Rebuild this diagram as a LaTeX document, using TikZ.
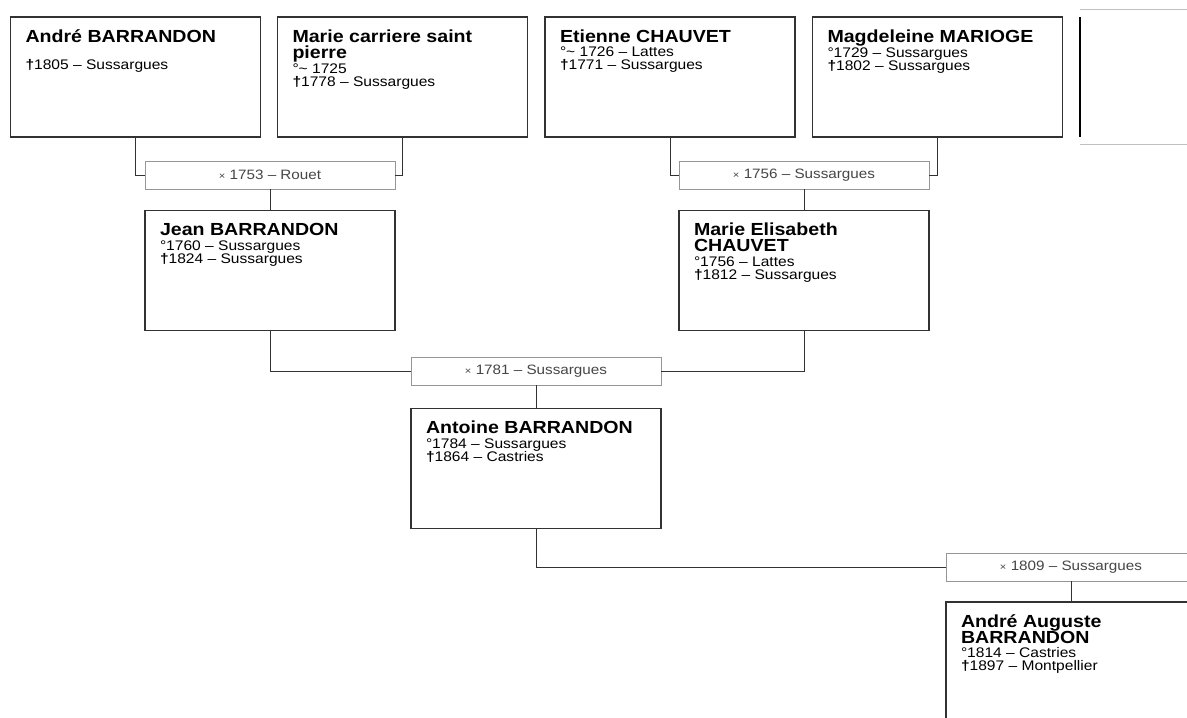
\documentclass[tikz,border=0pt]{standalone}
\usepackage{fontspec}
\setmainfont[FakeStretch=1.12]{Liberation Sans}
\definecolor{boxLine}{RGB}{50,50,50}
\definecolor{marrLine}{RGB}{150,150,150}
\definecolor{marrText}{RGB}{70,70,70}
\newcommand{\namefont}{\fontsize{17.5}{16}\selectfont\bfseries}
\newcommand{\datefont}{\fontsize{13.9}{13}\selectfont\mdseries}
\newcommand{\pcard}[2]{\parbox[t][120pt][t]{220pt}{\raggedright
  \namefont\rule{0pt}{25pt}#1\par\vspace{1.5pt}\datefont #2\par}}
\newcommand{\dg}{{\bfseries †}}
\newcommand{\mx}{{\fontsize{10}{10}\selectfont ×}}
\newcommand{\ca}{\textasciitilde}

\begin{document}
\begin{tikzpicture}[x=1pt, y=-1pt,
    person/.style={draw=boxLine, line width=1.2pt, inner xsep=15pt, inner ysep=0pt},
    marriage/.style={draw=marrLine, line width=0.9pt, minimum width=250pt,
      minimum height=28pt, inner sep=0pt, text=marrText, font=\fontsize{13.6}{13}\selectfont},
    link/.style={draw=boxLine, line width=1pt}]
  \useasboundingbox (0,0) rectangle (1187,718);
  \clip (0,0) rectangle (1187,718);
  \fill[white] (0,0) rectangle (1187,718);

  % first generation
  \node[person] (andre) at (135.5,77) {\pcard{André BARRANDON}{\mbox{}\\ \dg1805 – Sussargues}};
  \node[person] (marieC) at (402.5,77) {\pcard{Marie carriere saint\\ pierre}{°\ca\ 1725\\ \dg1778 – Sussargues}};
  \node[person] (etienne) at (670,77) {\pcard{Etienne CHAUVET}{°\ca\ 1726 – Lattes\\ \dg1771 – Sussargues}};
  \node[person] (magdeleine) at (937.5,77) {\pcard{Magdeleine MARIOGE}{°1729 – Sussargues\\ \dg1802 – Sussargues}};

  % cut box at the right edge
  \fill[white] (1080,9) rectangle (1190,144);
  \draw[marrLine!60, line width=0.8pt] (1080,9) -- (1190,9) (1080,144) -- (1190,144);
  \draw[black, line width=1.4pt] (1080,17) -- (1080,137);

  \node[marriage] (m1753) at (270,175) {\mx{} 1753 – Rouet};
  \node[marriage] (m1756) at (804,175) {\mx{} 1756 – Sussargues};

  % second generation
  \node[person] (jean) at (270,270.5) {\pcard{Jean BARRANDON}{°1760 – Sussargues\\ \dg1824 – Sussargues}};
  \node[person] (elisabeth) at (804,270.5) {\pcard{Marie Elisabeth\\ CHAUVET}{°1756 – Lattes\\ \dg1812 – Sussargues}};

  \node[marriage] (m1781) at (536,371) {\mx{} 1781 – Sussargues};
  \node[person] (antoine) at (536,468.5) {\pcard{Antoine BARRANDON}{°1784 – Sussargues\\ \dg1864 – Castries}};

  \node[marriage] (m1809) at (1071,567) {\mx{} 1809 – Sussargues};
  \node[person] (auguste) at (1071,662) {\pcard{André Auguste\\ BARRANDON}{°1814 – Castries\\ \dg1897 – Montpellier}};

  \draw[link] (andre.south) |- (m1753.west);
  \draw[link] (marieC.south) |- (m1753.east);
  \draw[link] (m1753.south) -- (jean.north);
  \draw[link] (etienne.south) |- (m1756.west);
  \draw[link] (magdeleine.south) |- (m1756.east);
  \draw[link] (m1756.south) -- (elisabeth.north);
  \draw[link] (jean.south) |- (m1781.west);
  \draw[link] (elisabeth.south) |- (m1781.east);
  \draw[link] (m1781.south) -- (antoine.north);
  \draw[link] (antoine.south) |- (m1809.west);
  \draw[link] (m1809.south) -- (auguste.north);
\end{tikzpicture}
\end{document}
